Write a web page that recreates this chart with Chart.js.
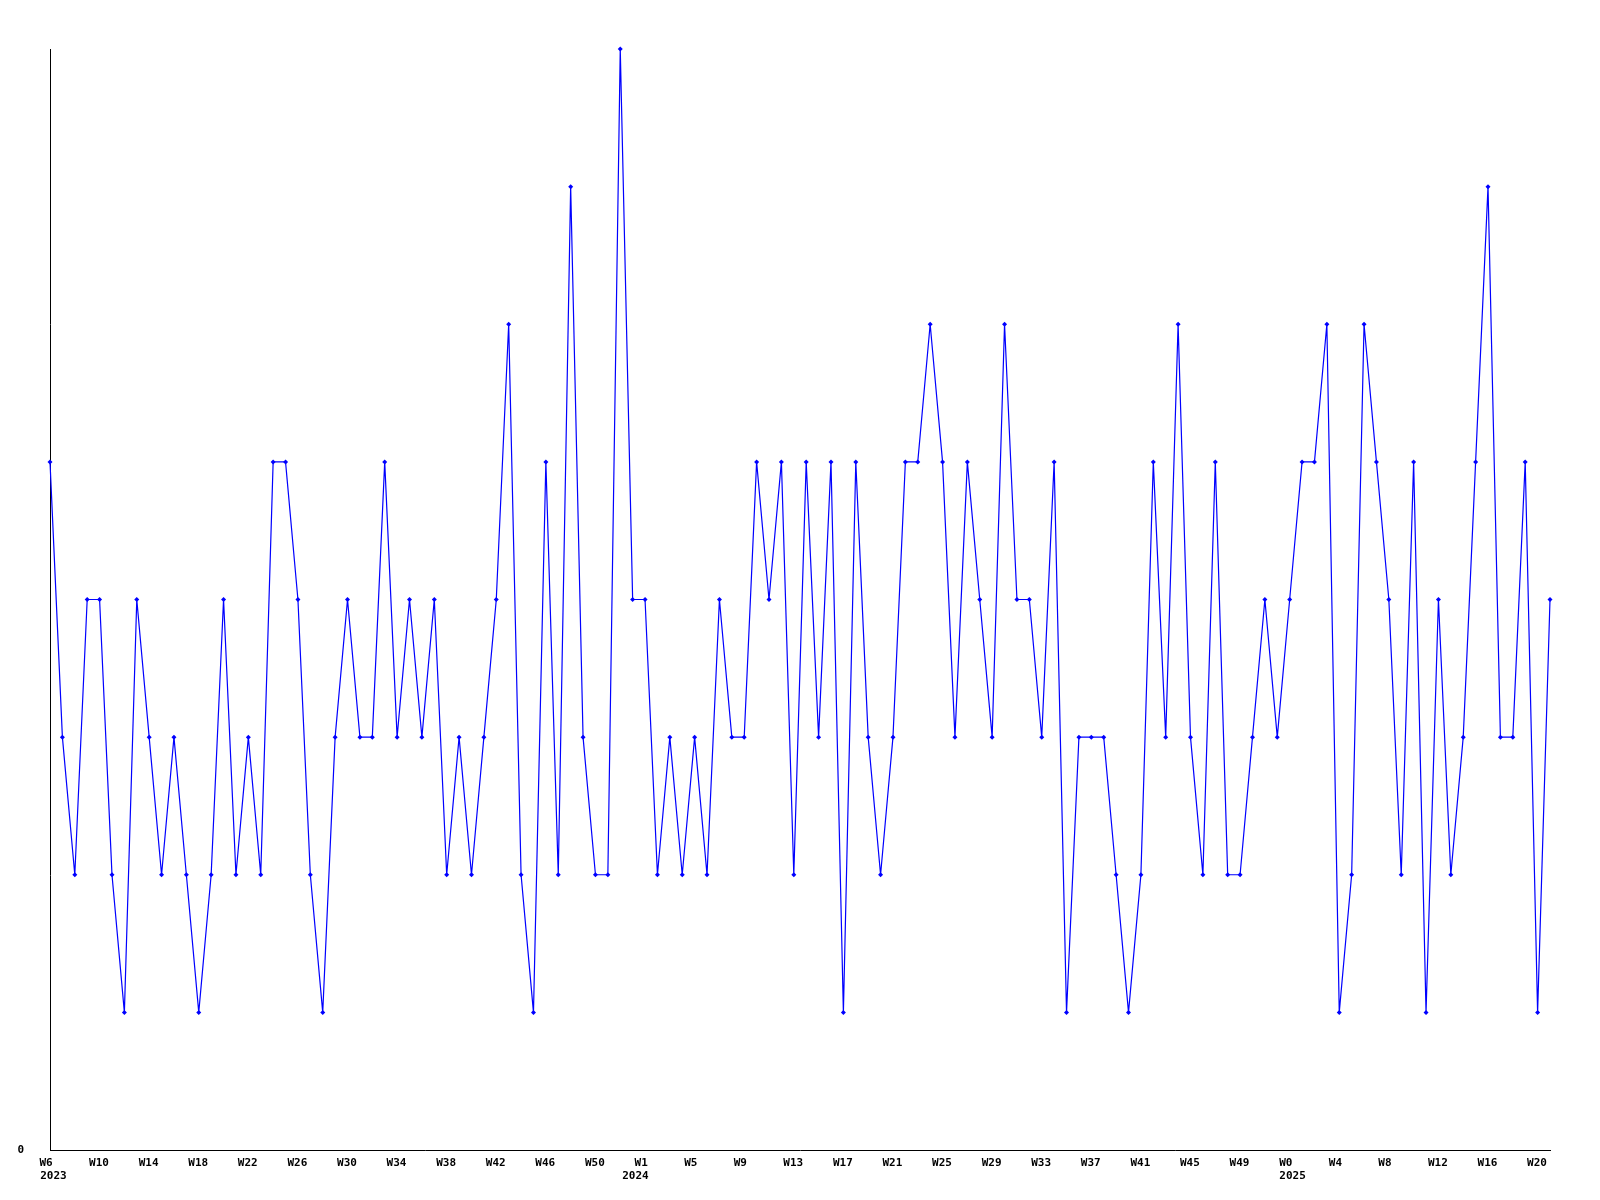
<!DOCTYPE html>
<html>
<head>
<meta charset="utf-8">
<script src="https://cdn.jsdelivr.net/npm/chart.js@4/dist/chart.umd.min.js"></script>
<style>
  html, body { margin: 0; background: #fff; }
  #wrap { width: 1600px; height: 1200px; }
</style>
</head>
<body>
<div id="wrap"><canvas id="c" width="1600" height="1200"></canvas></div>
<script>
"use strict";

// --- data --------------------------------------------------------------------
const weekYears = [2023, 2024, 2025];
const weekFirst = [6, 1, 0];
const weekLast = [53, 52, 21];
const counts = [
  5, 3, 2, 4, 4, 2, 1, 4, 3, 2,
  3, 2, 1, 2, 4, 2, 3, 2, 5, 5,
  4, 2, 1, 3, 4, 3, 3, 5, 3, 4,
  3, 4, 2, 3, 2, 3, 4, 6, 2, 1,
  5, 2, 7, 3, 2, 2, 8, 4, 4, 2,
  3, 2, 3, 2, 4, 3, 3, 5, 4, 5,
  2, 5, 3, 5, 1, 5, 3, 2, 3, 5,
  5, 6, 5, 3, 5, 4, 3, 6, 4, 4,
  3, 5, 1, 3, 3, 3, 2, 1, 2, 5,
  3, 6, 3, 2, 5, 2, 2, 3, 4, 3,
  4, 5, 5, 6, 1, 2, 6, 5, 4, 2,
  5, 1, 4, 2, 3, 5, 7, 3, 3, 5,
  1, 4
];
const yTickLabels = ["0"];
// where each year label sits along the week axis (in week steps)
const yearLabelAt = [0.28, 47.23, 100.23];

// --- categories ----------------------------------------------------------------
const labels = [], showTick = [];
weekYears.forEach((y, k) => {
  for (let w = weekFirst[k]; w <= weekLast[k]; w++) {
    showTick.push((w - weekFirst[k]) % 4 === 0);
    labels.push("W" + w);
  }
});

const FONT = { family: "'DejaVu Sans Mono', monospace", weight: "bold", size: 11 };

const yearLabels = {
  id: "yearLabels",
  afterDraw(chart) {
    const c = chart.ctx, sx = chart.scales.x;
    c.save();
    c.font = "bold 11px 'DejaVu Sans Mono', monospace";
    c.fillStyle = "#000";
    c.textAlign = "center";
    c.textBaseline = "middle";
    weekYears.forEach((y, k) => c.fillText(String(y), sx.getPixelForValue(yearLabelAt[k]), sx.top + 26));
    c.restore();
  }
};

new Chart(document.getElementById("c"), {
  type: "line",
  data: {
    labels,
    datasets: [{
      data: counts,
      borderColor: "#0000ff",
      borderWidth: 1.2,
      tension: 0,
      pointStyle: "rectRot",
      pointRadius: 2.5,
      pointBorderWidth: 0,
      pointBackgroundColor: "#0000ff",
      clip: 6
    }]
  },
  options: {
    responsive: false,
    animation: false,
    events: [],
    layout: { padding: { top: 49, right: 50, left: 0, bottom: 0 } },
    plugins: { legend: { display: false }, tooltip: { enabled: false } },
    scales: {
      x: {
        grid: { display: false, drawTicks: false },
        border: { color: "#000", width: 1 },
        ticks: {
          autoSkip: false, maxRotation: 0, align: "start", labelOffset: -10.5,
          padding: 7, color: "#000", font: FONT,
          callback: (v, i) => showTick[i] ? labels[i] : ""
        },
        afterFit: (s) => { s.height = 50; }
      },
      y: {
        min: 0, max: 8,
        grid: { display: false, drawTicks: false },
        border: { color: "#000", width: 1 },
        ticks: {
          stepSize: 1, padding: 26, color: "#000", font: FONT,
          callback: (v) => v === 0 ? yTickLabels[0] : ""
        },
        afterFit: (s) => { s.width = 50; }
      }
    }
  },
  plugins: [yearLabels]
});
</script>
</body>
</html>
